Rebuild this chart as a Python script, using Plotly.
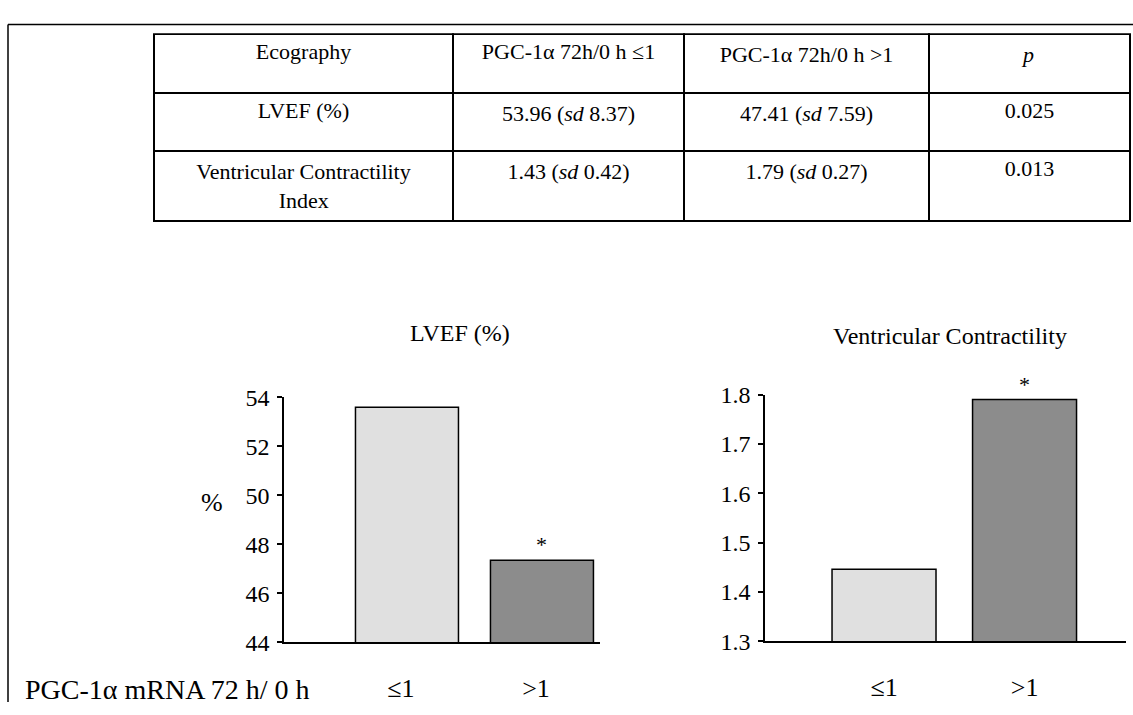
import plotly.graph_objects as go

# ---------------- data ----------------
table_header = ["Ecography", "PGC-1α 72h/0 h ≤1", "PGC-1α 72h/0 h >1", "<i>p</i>"]
table_rows = [
    ["LVEF (%)", "53.96 (<i>sd</i> 8.37)", "47.41 (<i>sd</i> 7.59)", "0.025"],
    ["Ventricular Contractility<br>" + "\u00a0" * 15 + "Index", "1.43 (<i>sd</i> 0.42)", "1.79 (<i>sd</i> 0.27)", "0.013"],
]
categories = ["≤1", ">1"]
lvef_values = [53.6, 47.35]
vci_values = [1.446, 1.79]
significant = [False, True]
lvef_ticks = [44, 46, 48, 50, 52, 54]
vci_ticks = [1.3, 1.4, 1.5, 1.6, 1.7, 1.8]
bar_colors = ["#e0e0e0", "#8c8c8c"]

W, H = 1133, 715
FONT = "Liberation Serif"


def px(x):
    return x / W


def py(y):
    return (H - y) / H


fig = go.Figure()

# table
columns = list(map(list, zip(*table_rows)))
fig.add_trace(go.Table(
    domain=dict(x=[px(154), px(1130)], y=[py(250), py(22)]),
    columnwidth=[299, 231, 245, 201],
    header=dict(values=table_header, align="center", height=59,
                fill_color="white", line=dict(color="black", width=2),
                font=dict(family=FONT, size=22, color="black")),
    cells=dict(values=columns, align="center", height=58,
               fill_color="white", line=dict(color="black", width=2),
               font=dict(family=FONT, size=22, color="black")),
))

# bars
fig.add_trace(go.Bar(x=categories, y=lvef_values, marker=dict(color=bar_colors, line=dict(color="black", width=1.5)),
                     width=0.763, xaxis="x", yaxis="y", showlegend=False))
fig.add_trace(go.Bar(x=categories, y=vci_values, marker=dict(color=bar_colors, line=dict(color="black", width=1.5)),
                     width=0.74, xaxis="x2", yaxis="y2", showlegend=False))

axis_common = dict(showline=True, linecolor="black", linewidth=1.5, showgrid=False, zeroline=False)
tick_font = dict(family=FONT, size=24, color="black")
cat_font = dict(family=FONT, size=26, color="black")

fig.update_layout(
    width=W, height=H, margin=dict(l=0, r=0, t=0, b=0),
    paper_bgcolor="white", plot_bgcolor="white", showlegend=False,
    xaxis=dict(domain=[px(284), px(600)], range=[-0.911, 1.43], anchor="y", ticks="",
               ticklabelstandoff=22, ticklabelshift=-6, tickfont=cat_font, **axis_common),
    yaxis=dict(domain=[py(653), py(399)], range=[44, 54], anchor="x", tickvals=lvef_ticks,
               ticks="outside", ticklen=5, tickwidth=1.5, tickcolor="black", ticklabelstandoff=3,
               tickfont=tick_font, **axis_common),
    xaxis2=dict(domain=[px(765), px(1126)], range=[-0.847, 1.722], anchor="y2", ticks="",
                ticklabelstandoff=22, tickfont=cat_font, **axis_common),
    yaxis2=dict(domain=[py(652), py(396)], range=[1.3, 1.8], anchor="x2", tickvals=vci_ticks, tickformat=".1f",
                ticks="outside", ticklen=5, tickwidth=1.5, tickcolor="black", ticklabelstandoff=3,
                tickfont=tick_font, **axis_common),
)

ann = [
    dict(text="LVEF (%)", x=px(460), y=py(332), xref="paper", yref="paper", xanchor="center", yanchor="middle",
         showarrow=False, font=dict(family=FONT, size=24, color="black")),
    dict(text="Ventricular Contractility", x=px(950), y=py(335), xref="paper", yref="paper", xanchor="center",
         yanchor="middle", showarrow=False, font=dict(family=FONT, size=24, color="black")),
    dict(text="%", x=px(212), y=py(508), xref="paper", yref="paper", xanchor="center", yanchor="middle",
         showarrow=False, font=dict(family=FONT, size=26, color="black")),
    dict(text="PGC-1α mRNA 72 h/ 0 h", x=px(23), y=py(702), xref="paper", yref="paper", xanchor="left",
         yanchor="middle", showarrow=False, font=dict(family=FONT, size=28, color="black")),
]
for xr, yr, vals in (("x", "y", lvef_values), ("x2", "y2", vci_values)):
    for c, v, s in zip(categories, vals, significant):
        if s:
            ann.append(dict(text="*", x=c, y=v, xref=xr, yref=yr, xanchor="center", yanchor="bottom", yshift=1,
                            showarrow=False, font=dict(family=FONT, size=22, color="black")))
fig.update_layout(annotations=ann)

# page frame (left and top border of the figure panel)
fig.update_layout(shapes=[
    dict(type="line", xref="paper", yref="paper", x0=px(8), x1=1, y0=py(12), y1=py(12),
         line=dict(color="black", width=1.5)),
    dict(type="line", xref="paper", yref="paper", x0=px(8), x1=px(8), y0=0, y1=py(12),
         line=dict(color="black", width=1.5)),
])

fig.write_html("out.html", config={"displayModeBar": False},
               post_script="document.body.style.margin='0';document.body.style.overflow='hidden';")
